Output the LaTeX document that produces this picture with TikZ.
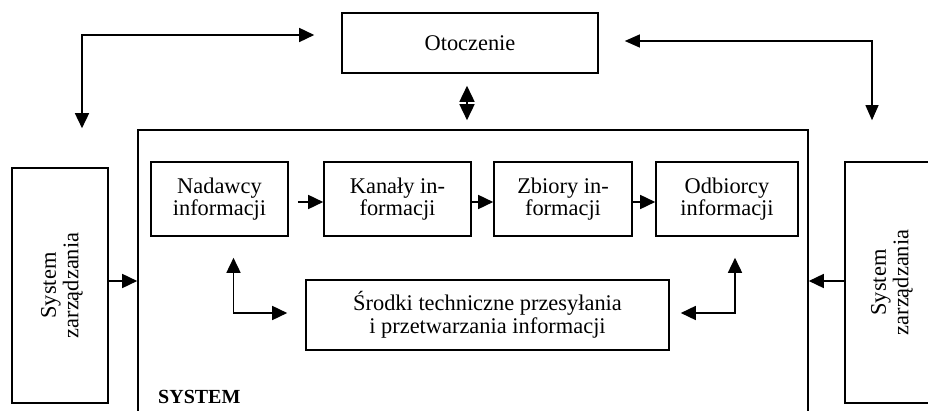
\documentclass[tikz,border=0pt]{standalone}
\usepackage{fontspec}
\setmainfont{Liberation Serif}
\usetikzlibrary{arrows.meta,calc}
\begin{document}
\begin{tikzpicture}[x=1pt,y=-1pt,
  txt/.style={font=\fontsize{22.4}{22.5}\selectfont, align=center, inner sep=0pt},
  box/.style={txt, draw, line width=1.6pt},
  tip/.tip={Triangle[length=15pt,width=14pt]},
  link/.style={line width=1.6pt, -tip},
  biarrow/.style={line width=1.6pt, tip-tip},
]
\useasboundingbox (0,0) rectangle (928,411);
\clip (0,0) rectangle (928,411);

% environment and the system frame (open at the bottom)
\node[box, minimum width=256, minimum height=60] (oto) at (470,43) {Otoczenie};
\node[draw, line width=1.6pt, inner sep=0pt, minimum width=670, minimum height=300] (sys) at (473,280) {};
\node[font=\bfseries\fontsize{20}{20}\selectfont, anchor=base west, inner sep=0pt] (lbl) at (158,403) {SYSTEM};

% management systems on both sides
\node[draw, line width=1.6pt, inner sep=0pt, minimum width=96, minimum height=235] (lsz) at (60,285.5) {};
\node[txt, rotate=90] (lszt) at ($(lsz.center)+(2,0)$) {System\\zarządzania};
\node[draw, line width=1.6pt, inner sep=0pt, minimum width=96, minimum height=241] (rsz) at (893,282.5) {};
\node[txt, rotate=90] (rszt) at ($(rsz.center)+(-1,0)$) {System\\zarządzania};

% information chain
\node[box, minimum width=137, minimum height=74] (nad) at (219.5,199) {Nadawcy\\informacji};
\node[box, minimum width=147, minimum height=74] (kan) at (397.5,199) {Kanały in-\\formacji};
\node[box, minimum width=138, minimum height=74] (zbi) at (563,199) {Zbiory in-\\formacji};
\node[box, minimum width=142, minimum height=74] (odb) at (727,199) {Odbiorcy\\informacji};
\node[box, minimum width=363, minimum height=70] (srd) at (487.5,315) {Środki techniczne przesyłania\\i przetwarzania informacji};

% flow along the chain
\draw[link] ($(nad.east)+(9,3)$) -- ($(kan.west)+(0,3)$);
\draw[link] ($(kan.east)+(0,3)$) -- ($(zbi.west)+(0,3)$);
\draw[link] ($(zbi.east)+(0,3)$) -- ($(odb.west)+(0,3)$);

% technical means linked to senders and receivers
\draw[biarrow] ($(nad.south)+(14,21)$) |- ($(srd.west)+(-18,-2)$);
\draw[biarrow] ($(odb.south)+(8,21)$) |- ($(srd.east)+(11,-2)$);

% management systems acting on the system
\draw[link] ($(lsz.east)+(0,-4.5)$) coordinate (la) -- (la -| sys.west);
\draw[link] ($(rsz.west)+(0,-1.5)$) coordinate (ra) -- (ra -| sys.east);

% exchange with the environment
\draw[line width=1.6pt, {Triangle[length=16pt,width=15pt]}-{Triangle[length=16pt,width=15pt]}]
  ($(oto.south)+(-3,12)$) -- ($(sys.north)+(-6,-9)$);
\draw[biarrow] ($(oto.west)+(-27,-8)$) -| ($(lsz.north)+(22,-39)$);
\draw[line width=1.1pt, {Triangle[length=15pt,width=13pt]}-{Triangle[length=15pt,width=13pt]}]
  ($(oto.east)+(26,-2)$) -| ($(rsz.north)+(-21,-41)$);
\end{tikzpicture}
\end{document}
